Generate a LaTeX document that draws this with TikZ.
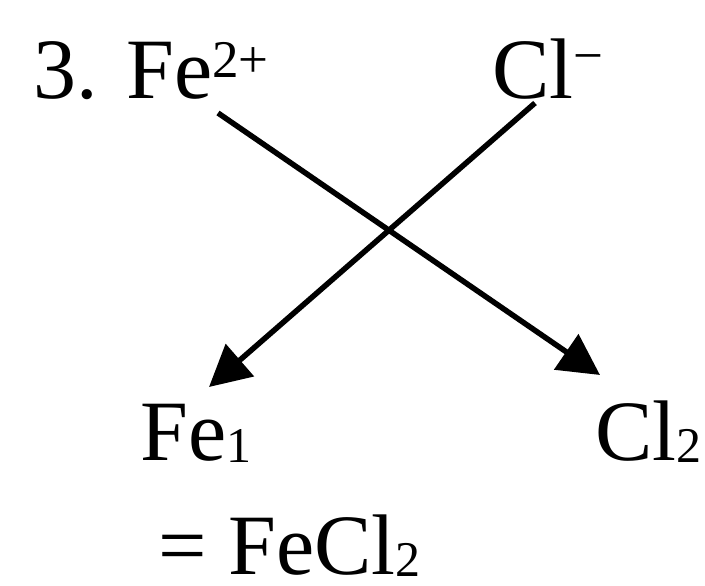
\documentclass[tikz,border=0pt]{standalone}
\usepackage{fontspec}
\setmainfont{Liberation Serif}
\usepackage{tikz}
\usetikzlibrary{arrows.meta,positioning}

% raised and lowered small digits for the ions
\newcommand{\ionsup}[2][21pt]{\raisebox{#1}{\fontsize{53}{53}\selectfont #2}}
\newcommand{\ionsub}[1]{\raisebox{-2pt}{\fontsize{50}{50}\selectfont #1}}

\begin{document}
\begin{tikzpicture}[
  x=1pt,y=-1pt,
  font=\fontsize{86}{96}\selectfont,
  chem/.style={inner sep=0pt,anchor=base west,text depth=0pt},
  arrow/.style={-{Triangle[length=41pt,width=42pt]},line width=5.5pt},
]
\useasboundingbox (0,0) rectangle (705,586);
\node[chem] (ion1) at (33,99) {3. Fe\ionsup{2+}};
\node[chem] (ion2) at (492,99) {Cl\ionsup[25pt]{−}};
\node[chem] (fe1) at (140,460) {Fe\ionsub{1}};
\node[chem] (cl2) at (595,460) {Cl\ionsub{2}};
\node[chem] (result) at (158,574) {= FeCl\ionsub{2}};

\coordinate (feS) at (218,113);
\coordinate (clS) at (535,103);
\coordinate (feT) at (209,387);
\coordinate (clT) at (600,375);

\draw[arrow] (feS) -- (clT);
\draw[arrow] (clS) -- (feT);
\end{tikzpicture}
\end{document}
